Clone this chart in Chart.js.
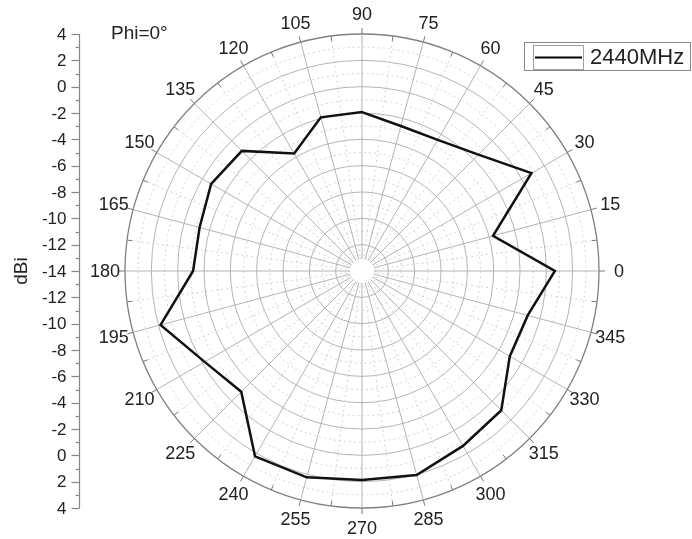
<!DOCTYPE html>
<html>
<head>
<meta charset="utf-8">
<script src="https://cdn.jsdelivr.net/npm/chart.js@4"></script>
<style>
  html, body { margin: 0; padding: 0; background: #fff; }
  #wrap { width: 692px; height: 539px; }
</style>
</head>
<body>
<div id="wrap"><canvas id="polarChart" width="692" height="539"></canvas></div>
<script>
// Measured pattern, Phi=0 cut, 2440MHz
const angles = [0, 15, 30, 45, 60, 75, 90, 105, 120, 135, 150, 165,
                180, 195, 210, 225, 240, 255, 270, 285, 300, 315, 330, 345];
const gain = [0.65, -3.7, 0.86, -1.5, -2.5, -2.6, -1.93, -1.92, -3.7, -1.1, -0.77, -1.23,
              -1.17, 1.84, -0.2, -1.03, 2.25, 2.22, 1.87, 2.04, 1.34, 0.96, -1.04, -0.97];
const rMin = -14;
const rMax = 4;
const seriesName = "2440MHz";
const cutLabel = "Phi=0°";

const FONT = "'Liberation Sans', Arial, sans-serif";

// radar goes clockwise from the top, so slot i sits at math angle 90 - i*7.5
const slots = [];
for (let i = 0; i < 48; i++) {
  slots.push(((90 - i * 7.5) % 360 + 360) % 360);
}
const slotData = slots.map((a) => {
  const k = angles.indexOf(a);
  return k >= 0 ? gain[k] : null;
});

const isMajor = (i) => i % 2 === 0;

const decorPlugin = {
  id: "decor",
  beforeDatasetsDraw(chart) {
    const s = chart.scales.r;
    const ctx = chart.ctx;
    // hole in the middle
    ctx.save();
    ctx.fillStyle = "#fff";
    ctx.beginPath();
    ctx.arc(s.xCenter, s.yCenter, 12, 0, Math.PI * 2);
    ctx.fill();
    // outer ring ticks
    const R = s.getDistanceFromCenterForValue(rMax);
    ctx.strokeStyle = "#777";
    ctx.lineWidth = 1;
    for (let i = 0; i < slots.length; i++) {
      const a = isMajor(i) ? s.getPointPosition(i, R) : s.getPointPosition(i, R - 5);
      const b = isMajor(i) ? s.getPointPosition(i, R + 6) : s.getPointPosition(i, R);
      ctx.beginPath();
      ctx.moveTo(a.x, a.y);
      ctx.lineTo(b.x, b.y);
      ctx.stroke();
    }
    ctx.restore();
  },
  afterDraw(chart) {
    const s = chart.scales.r;
    const ctx = chart.ctx;
    ctx.save();
    // angle labels
    ctx.fillStyle = "#222";
    ctx.font = "18px " + FONT;
    ctx.textAlign = "center";
    ctx.textBaseline = "middle";
    const R = s.getDistanceFromCenterForValue(rMax);
    for (let i = 0; i < slots.length; i += 2) {
      const p = s.getPointPosition(i, R + 20);
      ctx.fillText(String(slots[i]), p.x, p.y + 1);
    }

    // left dBi axis, mirrored about the centre
    const ax = 79.5;
    const yTop = s.yCenter - s.getDistanceFromCenterForValue(rMax);
    const yBot = s.yCenter + s.getDistanceFromCenterForValue(rMax);
    ctx.strokeStyle = "#888";
    ctx.lineWidth = 1.2;
    ctx.beginPath();
    ctx.moveTo(ax, yTop);
    ctx.lineTo(ax, yBot);
    ctx.stroke();
    ctx.font = "17px " + FONT;
    ctx.textAlign = "right";
    ctx.fillStyle = "#222";
    for (let v = rMin; v <= rMax; v++) {
      const d = s.getDistanceFromCenterForValue(v);
      const ys = v === rMin ? [s.yCenter] : [s.yCenter - d, s.yCenter + d];
      const major = Math.abs(v) % 2 === 0;
      ys.forEach((y) => {
        ctx.beginPath();
        ctx.moveTo(ax - (major ? 8 : 4), Math.round(y) + 0.5);
        ctx.lineTo(ax, Math.round(y) + 0.5);
        ctx.stroke();
        if (major) ctx.fillText(String(v), ax - 13, y + 1);
      });
    }
    ctx.save();
    ctx.translate(22, s.yCenter);
    ctx.rotate(-Math.PI / 2);
    ctx.textAlign = "center";
    ctx.font = "19px " + FONT;
    ctx.fillText("dBi", 0, 0);
    ctx.restore();

    // cut label
    ctx.textAlign = "left";
    ctx.font = "19px " + FONT;
    ctx.fillText(cutLabel, 111, 34);

    // legend box
    ctx.strokeStyle = "#888";
    ctx.lineWidth = 1;
    ctx.strokeRect(524.5, 42.5, 166, 28);
    ctx.strokeStyle = "#f08080";
    ctx.strokeRect(533.5, 45.5, 50, 24);
    ctx.strokeStyle = "#000";
    ctx.lineWidth = 2;
    ctx.beginPath();
    ctx.moveTo(535, 57.5);
    ctx.lineTo(582, 57.5);
    ctx.stroke();
    ctx.font = "22px " + FONT;
    ctx.fillText(seriesName, 590, 58);
    ctx.restore();
  },
};

new Chart(document.getElementById("polarChart"), {
  type: "radar",
  data: {
    labels: slots.map(String),
    datasets: [
      {
        label: seriesName,
        data: slotData,
        borderColor: "#111",
        borderWidth: 2.5,
        backgroundColor: "rgba(0,0,0,0)",
        fill: false,
        pointRadius: 0,
        spanGaps: true,
        tension: 0,
      },
    ],
  },
  options: {
    responsive: false,
    animation: false,
    layout: { padding: { left: 125, right: 93, top: 34, bottom: 31 } },
    plugins: { legend: { display: false }, tooltip: { enabled: false } },
    scales: {
      r: {
        min: rMin,
        max: rMax,
        startAngle: 0,
        ticks: { display: false, stepSize: 1 },
        pointLabels: { display: false },
        grid: {
          circular: true,
          color: (c) => {
            const v = c.tick.value;
            if (v === rMax) return "#808080";
            return Math.abs(v) % 2 === 0 ? "#b4b4b4" : "#d2d2d2";
          },
          lineWidth: (c) => (c.tick.value === rMax ? 1.3 : 1),
        },
        border: {
          dash: (c) => {
            const v = c.tick ? c.tick.value : 0;
            return Math.abs(v) % 2 === 0 || v === rMax ? [] : [2, 3];
          },
        },
        angleLines: {
          color: (c) => (isMajor(c.index) ? "#b4b4b4" : "#d2d2d2"),
          lineWidth: 1,
          borderDash: (c) => (isMajor(c.index) ? [] : [2, 3]),
        },
      },
    },
  },
  plugins: [decorPlugin],
});
</script>
</body>
</html>
